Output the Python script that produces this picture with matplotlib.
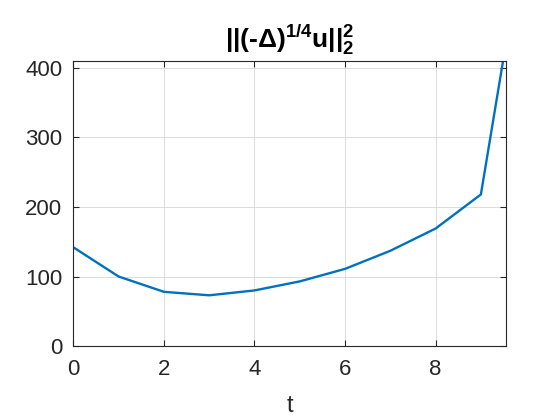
import numpy as np
import matplotlib
matplotlib.use("Agg")
import matplotlib.pyplot as plt

# waarden
t = [0, 1, 2, 3, 4, 5, 6, 7, 8, 9, 9.5]
norm_vals = [142, 100, 78, 73, 80, 93, 111, 137, 169, 218, 414]

x_ticks = [0, 2, 4, 6, 8]
y_ticks = [0, 100, 200, 300, 400]

plt.rcParams["font.family"] = ["Liberation Sans", "DejaVu Sans"]
plt.rcParams["mathtext.fontset"] = "custom"
plt.rcParams["mathtext.rm"] = "Liberation Sans:bold"
plt.rcParams["mathtext.bf"] = "Liberation Sans:bold"
plt.rcParams["mathtext.it"] = "Liberation Sans:bold"

fig = plt.figure(figsize=(5.6, 4.2), dpi=100)
ax = fig.add_axes([0.131, 0.176, 0.773, 0.679])

ax.plot(t, norm_vals, color="#0072BD", linewidth=1.7)

ax.set_xlim(0, 9.56)
ax.set_ylim(0, 410)
ax.set_xticks(x_ticks)
ax.set_yticks(y_ticks)

dark = "#262626"
ax.tick_params(direction="in", length=4, width=0.8, labelsize=16,
               colors=dark, top=True, right=True)
ax.tick_params(axis="x", pad=9)
ax.tick_params(axis="y", pad=8)
for s in ax.spines.values():
    s.set_color(dark)
    s.set_linewidth(0.8)

ax.grid(True, color="#dcdcdc", linewidth=0.7)
ax.set_axisbelow(True)

ax.set_xlabel("t", fontsize=17, color=dark, labelpad=11)
ax.set_title(r"$\mathrm{||(\text{-}\Delta)^{1/4}u||_2^2}$", fontsize=19,
             color="black", pad=9)

fig.savefig("out.png", dpi=100)
